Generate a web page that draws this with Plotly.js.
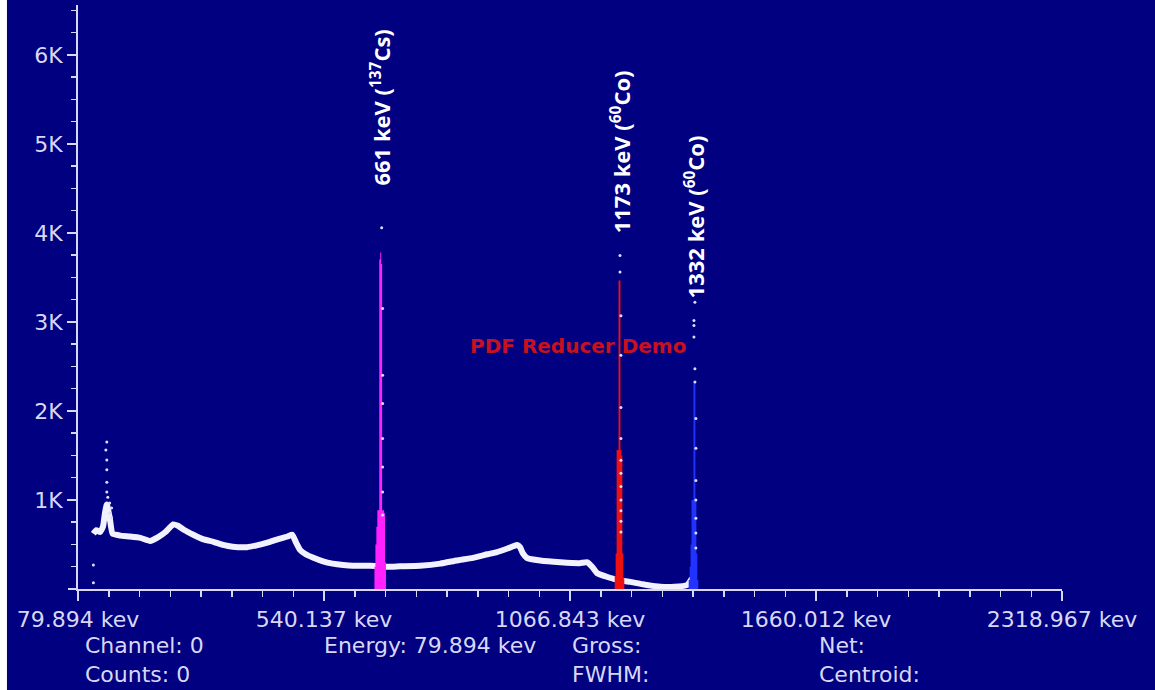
<!DOCTYPE html>
<html>
<head>
<meta charset="utf-8">
<script src="https://cdn.plot.ly/plotly-3.0.1.min.js"></script>
<style>
  html, body { margin: 0; padding: 0; background: #ffffff; }
  #chart { width: 1155px; height: 690px; }
</style>
</head>
<body>
<div id="chart"></div>
<script>
// ---------- data ----------
// x axis = channel (0..1024); tick labels show calibrated energy
const energyTickChannels = [0, 256, 512, 768, 1024];
const energyTickLabels = ['79.894 kev', '540.137 kev', '1066.843 kev', '1660.012 kev', '2318.967 kev'];

const countTickValues = [1000, 2000, 3000, 4000, 5000, 6000];
const countTickLabels = ['1K', '2K', '3K', '4K', '5K', '6K'];

// continuum (white spectrum band)
const continuumChannel = [16, 19, 23, 26, 28, 30, 33, 36, 44, 54, 65, 75, 83, 91, 99, 104, 111, 120, 130, 141,
  151, 161, 176, 186, 197, 207, 218, 223, 227, 231, 237, 245, 255, 265, 276, 286, 299, 309, 322, 335,
  356, 377, 394, 411, 426, 436, 447, 453, 457, 460, 463, 467, 481, 502, 522, 530, 535, 540, 551, 559,
  564, 575, 592, 606, 621, 634, 639];
const continuumCounts = [620, 660, 640, 700, 850, 950, 800, 620, 600, 590, 575, 540, 580, 640, 725, 710, 660, 610, 560, 530,
  495, 475, 470, 490, 520, 555, 590, 610, 520, 440, 390, 350, 310, 285, 270, 262, 262, 258, 250, 255,
  262, 285, 320, 350, 390, 415, 455, 480, 495, 470, 400, 350, 320, 300, 290, 300, 250, 180, 135, 110,
  95, 80, 45, 25, 25, 45, 120];

// ROI channels (filled peaks)
const cs137Channel = [308, 309, 310, 311, 312, 313, 314, 315, 316, 317, 318, 319, 320, 321];
const cs137Counts  = [0, 250, 500, 700, 885, 885, 3700, 3780, 3650, 885, 885, 850, 300, 0];

const co60aChannel = [558, 559, 560, 561, 562, 563, 564, 565, 566, 567, 568, 569];
const co60aCounts  = [0, 150, 400, 1560, 1560, 3465, 3465, 1560, 1500, 400, 120, 0];

const co60bChannel = [635, 636, 637, 638, 639, 640, 641, 642, 643, 644, 645, 646];
const co60bCounts  = [0, 100, 250, 500, 1000, 1000, 2310, 2310, 1000, 400, 100, 0];

// single scattered channel points (dots)
const dotChannel = [16, 16, 30, 29, 30, 30, 30, 30, 31, 33, 35, 33, 35,
  316, 317, 317, 317, 317, 317, 317, 317,
  564, 564, 565, 565, 565, 565, 565, 565, 565, 565, 565, 565, 565,
  642, 641, 641, 641, 642, 642, 643, 643, 643, 643, 643, 643, 643];
const dotCounts = [270, 70, 1650, 1560, 1450, 1340, 1200, 1090, 1030, 965, 910, 850, 800,
  4058, 3150, 2400, 2085, 1690, 1370, 1090, 830,
  3745, 3560, 3070, 2625, 2040, 1690, 1445, 1300, 1150, 1000, 880, 760, 640,
  3220, 3015, 2960, 2830, 2475, 2325, 1915, 1580, 1220, 1000, 795, 630, 460];

// peak labels
const peakLabelText = ['661 keV (<sup>137</sup>Cs)', '1173 keV (<sup>60</sup>Co)', '1332 keV (<sup>60</sup>Co)'];
const peakLabelChannel = [315, 564, 641];
const peakLabelCount = [4506, 3978, 3247];

// watermark
const watermarkText = 'PDF Reducer Demo';
const watermarkChannel = 520;
const watermarkCount = 2730;

// status readout texts
const statusText = ['Channel: 0', 'Counts: 0', 'Energy: 79.894 kev', 'Gross:', 'FWHM:', 'Net:', 'Centroid:'];

// ---------- styling ----------
const NAVY = '#000080';
const AXIS = '#d8d8f6';
const FONT = 'DejaVu Sans, Liberation Sans, Arial, sans-serif';

const traces = [
  {
    type: 'scatter', mode: 'lines', x: continuumChannel, y: continuumCounts,
    line: { color: '#f2f2ff', width: 6, shape: 'spline', smoothing: 0.4 },
    hoverinfo: 'skip', showlegend: false
  },
  {
    type: 'scatter', mode: 'lines', x: cs137Channel, y: cs137Counts,
    line: { color: '#ff22ff', width: 0, shape: 'hvh' }, fill: 'tozeroy', fillcolor: '#ff22ff',
    hoverinfo: 'skip', showlegend: false
  },
  {
    type: 'scatter', mode: 'lines', x: co60aChannel, y: co60aCounts,
    line: { color: '#ee1111', width: 0, shape: 'hvh' }, fill: 'tozeroy', fillcolor: '#ee1111',
    hoverinfo: 'skip', showlegend: false
  },
  {
    type: 'scatter', mode: 'lines', x: co60bChannel, y: co60bCounts,
    line: { color: '#2233ff', width: 0, shape: 'hvh' }, fill: 'tozeroy', fillcolor: '#2233ff',
    hoverinfo: 'skip', showlegend: false
  },
  {
    type: 'scatter', mode: 'markers', x: dotChannel, y: dotCounts,
    marker: { color: '#dcdcff', size: 3 },
    hoverinfo: 'skip', showlegend: false
  }
];

const annotations = [];
for (let i = 0; i < peakLabelText.length; i++) {
  annotations.push({
    x: peakLabelChannel[i], y: peakLabelCount[i], xref: 'x', yref: 'y',
    text: peakLabelText[i], showarrow: false, textangle: -90,
    xanchor: 'center', yanchor: 'bottom',
    font: { family: 'Open Sans, DejaVu Sans, sans-serif', size: 22, color: '#ffffff', weight: 'bold' }
  });
}
annotations.push({
  x: watermarkChannel, y: watermarkCount, xref: 'x', yref: 'y', text: watermarkText, showarrow: false,
  xanchor: 'center', yanchor: 'middle',
  font: { family: FONT, size: 20, color: '#c8101e', weight: 'bold' }
});
// status readouts below the axis (paper coords)
const statusX = [0.005, 0.005, 0.248, 0.5, 0.5, 0.751, 0.751];
const statusY = [-0.096, -0.147, -0.096, -0.096, -0.147, -0.096, -0.147];
for (let i = 0; i < statusText.length; i++) {
  annotations.push({
    x: statusX[i], y: statusY[i], xref: 'paper', yref: 'paper', text: statusText[i],
    showarrow: false, xanchor: 'left', yanchor: 'middle',
    font: { family: FONT, size: 22, color: AXIS }
  });
}

const layout = {
  width: 1155, height: 690,
  margin: { l: 78, r: 93, t: 5, b: 101, pad: 0 },
  paper_bgcolor: NAVY, plot_bgcolor: NAVY,
  showlegend: false,
  xaxis: {
    range: [0, 1024], showgrid: false, zeroline: false,
    showline: true, linecolor: AXIS, linewidth: 2,
    tickmode: 'array', tickvals: energyTickChannels, ticktext: energyTickLabels,
    ticks: 'outside', ticklen: 10, tickwidth: 1.5, tickcolor: AXIS,
    tickfont: { family: FONT, size: 22, color: AXIS },
    minor: { tickmode: 'linear', tick0: 0, dtick: 32, ticks: 'outside', ticklen: 6, tickwidth: 1.5, tickcolor: AXIS, showgrid: false }
  },
  yaxis: {
    range: [0, 6560], showgrid: false, zeroline: false,
    showline: true, linecolor: AXIS, linewidth: 2,
    tickmode: 'array', tickvals: countTickValues, ticktext: countTickLabels,
    ticks: 'outside', ticklen: 9, tickwidth: 1.5, tickcolor: AXIS,
    tickfont: { family: FONT, size: 22, color: AXIS },
    minor: { tickmode: 'linear', tick0: 0, dtick: 250, ticks: 'outside', ticklen: 5, tickwidth: 1.5, tickcolor: AXIS, showgrid: false }
  },
  annotations: annotations,
  shapes: [
    { type: 'rect', xref: 'paper', yref: 'paper', x0: -0.0795, x1: -0.0722, y0: -0.2, y1: 1.01,
      fillcolor: '#ffffff', line: { width: 0 }, layer: 'above' },
    // zero-count tick on the y axis
    { type: 'line', xref: 'paper', yref: 'paper', xsizemode: 'pixel', xanchor: 0, x0: -10, x1: 0, y0: 0, y1: 0,
      line: { color: AXIS, width: 2 } }
  ]
};

Plotly.newPlot('chart', traces, layout, { staticPlot: true, displayModeBar: false });
</script>
</body>
</html>
